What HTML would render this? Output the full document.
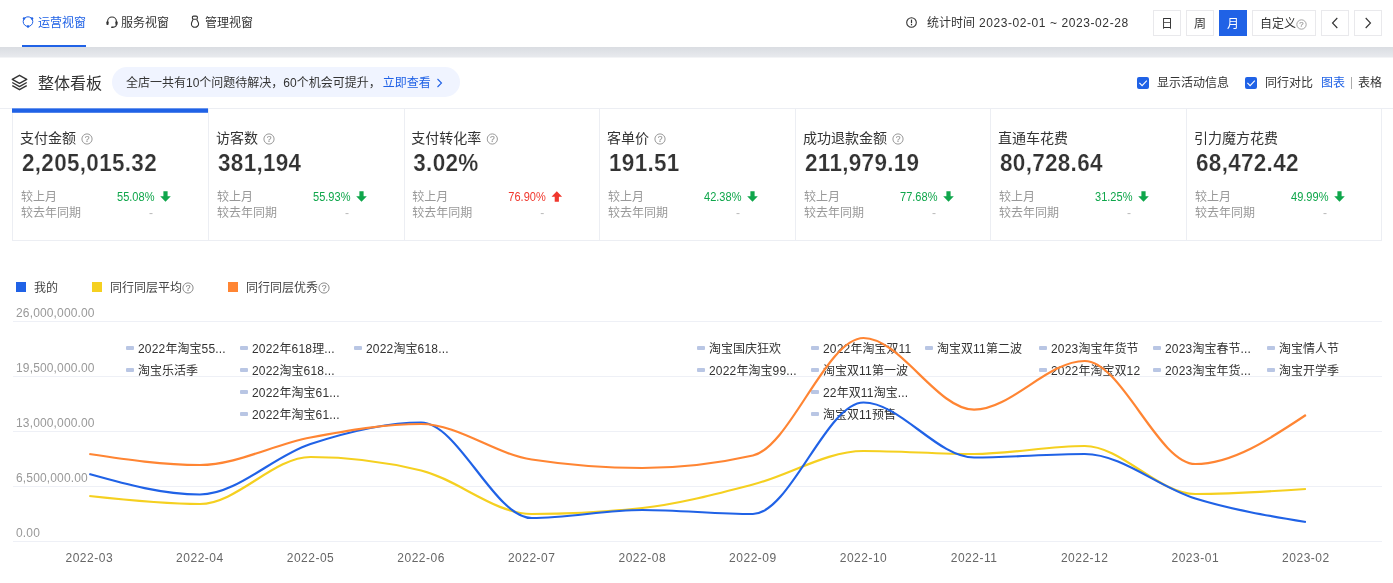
<!DOCTYPE html>
<html lang="zh-CN">
<head>
<meta charset="utf-8">
<title>整体看板</title>
<style>
*{box-sizing:border-box;margin:0;padding:0}
html,body{width:1393px;height:583px;overflow:hidden;background:#fff}
body{font-family:"Liberation Sans", "Noto Sans CJK SC", sans-serif;font-size:12px;color:#333;position:relative;line-height:1}
.abs{position:absolute}
#nav{position:absolute;left:0;top:0;width:1393px;height:47px;background:#fff}
.tab{position:absolute;top:0;height:47px;font-size:12px;line-height:16px;color:#333;white-space:nowrap}
.tab svg{position:absolute;top:16px;left:0}
.tab span{position:absolute;top:15px}
.tab.on{color:#2062e6}
.tab.on:after{content:"";position:absolute;left:0;top:45px;height:2px;width:64px;background:#2062e6}
#band{position:absolute;left:0;top:47px;width:1393px;height:11px;background:linear-gradient(#dadde2 0,#e7e9ed 9.5px,#f0f1f4 10px,#f6f7f8 11px)}
#stat{position:absolute;top:15px;left:927px;font-size:12px;line-height:16px;color:#333;white-space:nowrap}
.btn{position:absolute;top:10px;height:26px;width:28px;border:1px solid #e9e9ec;background:#fff;font-size:12px;line-height:26px;text-align:center;color:#333;white-space:nowrap}
.btn.on{background:#2062e6;border-color:#2062e6;color:#fff}
#ttl{position:absolute;left:38px;top:72px;font-size:16px;line-height:24px;color:#333;white-space:nowrap}
#pill{position:absolute;left:112px;top:67px;width:348px;height:30px;border-radius:15px;background:#f0f4ff;font-size:12px;line-height:32px;color:#333;padding-left:14px;white-space:nowrap}
#pill b{font-weight:normal;color:#2062e6;margin-left:2px}
.chk{position:absolute;top:77px;width:12px;height:12px;border-radius:2px;background:#2062e6}
.lbl{position:absolute;top:75px;font-size:12px;line-height:16px;white-space:nowrap;color:#333}
#hline{position:absolute;left:0;top:108px;width:1393px;height:1px;background:#eceef3}
#cards{position:absolute;left:0;top:108px;width:1393px;height:133px}
.card{position:absolute;top:0;height:133px;border:1px solid #eceef3;border-right:none;background:#fff}
.card:last-child{border-right:1px solid #eceef3}
.card.act:before{content:"";position:absolute;left:-1px;right:0;top:-1px;height:5px;background:linear-gradient(#6a96ee 0,#6a96ee 1px,#2062e6 1px,#2062e6 4px,#5184eb 4px)}
.ci{position:absolute;left:0;top:0;width:100%;height:100%}
.ct{position:absolute;left:7px;top:19px;font-size:14px;line-height:20px;color:#333;white-space:nowrap}
.ct .q{vertical-align:-2px;margin-left:1px}
.cv{position:absolute;left:9px;top:41px;font-size:22.5px;line-height:28px;font-weight:bold;color:#333;white-space:nowrap;letter-spacing:.3px;-webkit-text-stroke:.2px #fff;transform:scaleY(1.09);transform-origin:0 22.6px}
.cr{position:absolute;left:8px;font-size:12px;line-height:16px;color:#999;white-space:nowrap;width:180px;height:16px}
.r1{top:80px} .r2{top:96px}
.cp{position:absolute;left:96px;top:0;transform:scaleX(.92);transform-origin:0 0}
.cd{position:absolute;left:128px;top:0;color:#bbb}
.arr{position:absolute;left:139px;top:2px}
.lg{position:absolute;top:280px;font-size:12px;line-height:16px;color:#444;white-space:nowrap}
.lg i{position:absolute;left:-18px;top:2px;width:10px;height:10px}
.lg .q{vertical-align:-1.5px;margin-left:0}
.yl{position:absolute;left:16px;font-size:12px;line-height:16px;color:#999;white-space:nowrap}
.xl{position:absolute;top:550px;width:80px;text-align:center;font-size:12px;line-height:16px;color:#666;white-space:nowrap;letter-spacing:.5px}
.ev{position:absolute;font-size:12px;line-height:20px;color:#333;white-space:nowrap;padding-left:11px;margin-top:1px}
.ev i{position:absolute;left:-1px;top:6.5px;width:8px;height:4px;background:#b9c6e4;border-radius:1px}
#plot{position:absolute;left:0;top:0}
.n{letter-spacing:.58px}
.n2{letter-spacing:.15px}
.n3{letter-spacing:.2px}
</style>
</head>
<body>
<div id="nav">
  <div class="tab on" style="left:22px;width:64px">
    <svg width="12" height="13" viewBox="0 0 12 13" style="top:15px"><circle cx="6" cy="6.6" r="4.8" fill="none" stroke="#2062e6" stroke-width="1"/><circle cx="2" cy="3.4" r="1.25" fill="#2062e6"/><circle cx="10" cy="3.4" r="1.25" fill="#2062e6"/><circle cx="6" cy="11.4" r="1.25" fill="#2062e6"/></svg>
    <span style="left:16px">运营视窗</span>
  </div>
  <div class="tab" style="left:106px;width:64px">
    <svg width="12" height="13" viewBox="0 0 12 13" style="top:16px"><path d="M1.6 6.6V5.4a4.4 4.4 0 0 1 8.8 0V6.6" fill="none" stroke="#333" stroke-width="1.1"/><rect x="0.4" y="5.2" width="2.2" height="3.8" rx="1" fill="#333"/><rect x="9.4" y="5.2" width="2.2" height="3.8" rx="1" fill="#333"/><path d="M10.4 8.6c0 1.6-1.4 2.6-3.6 2.6" fill="none" stroke="#333" stroke-width="1.1"/><rect x="5" y="10.4" width="2.6" height="1.6" rx="0.8" fill="#333"/></svg>
    <span style="left:15px">服务视窗</span>
  </div>
  <div class="tab" style="left:190px;width:64px">
    <svg width="10" height="13" viewBox="0 0 10 13" style="top:15px;left:0"><rect x="2.4" y="1.1" width="5" height="3.2" rx="1.2" fill="none" stroke="#333" stroke-width="1.1"/><path d="M3 4.5C2.4 6 1.4 7.4 1.4 9c0 1.6 1.6 3.3 3.5 3.3S8.6 10.600 8.600 9C8.600 7.400 7.400 6 6.800 4.500" fill="none" stroke="#333" stroke-width="1.1"/></svg>
    <span style="left:15px">管理视窗</span>
  </div>
  <svg class="abs" style="left:906px;top:16.5px" width="11" height="11" viewBox="0 0 11 11"><circle cx="5.5" cy="5.5" r="4.8" fill="none" stroke="#333" stroke-width="1.1"/><rect x="4.9" y="2.6" width="1.2" height="3.6" fill="#333"/><rect x="4.9" y="7" width="1.2" height="1.3" fill="#333"/></svg>
  <div id="stat">统计时间<span class="n"> 2023-02-01 ~ 2023-02-28</span></div>
  <div class="btn" style="left:1153px">日</div>
  <div class="btn" style="left:1186px">周</div>
  <div class="btn on" style="left:1219px">月</div>
  <div class="btn" style="left:1252px;width:64px;text-indent:-1px">自定义<span style="position:relative;top:2px"><svg class="q" viewBox="0 0 12 12" width="11" height="11"><circle cx="6" cy="6" r="5.1" fill="none" stroke="#999" stroke-width="1"/><text x="6" y="9" font-size="8.5" text-anchor="middle" fill="#999" stroke="#999" stroke-width="0.2" font-family='"Liberation Sans", sans-serif'>?</text></svg></span></div>
  <div class="btn" style="left:1321px"><svg width="8" height="12" viewBox="0 0 8 12" style="position:absolute;left:9px;top:6px"><path d="M6.3 1 1.5 6l4.800 5" fill="none" stroke="#333" stroke-width="1.1"/></svg></div>
  <div class="btn" style="left:1354px"><svg width="8" height="12" viewBox="0 0 8 12" style="position:absolute;left:9px;top:6px"><path d="M1.7 1 6.500 6l-4.800 5" fill="none" stroke="#333" stroke-width="1.1"/></svg></div>
</div>
<div id="band"></div>

<svg class="abs" style="left:11px;top:74px" width="17" height="17" viewBox="0 0 16 16"><path d="M8 1.2 14.8 5 8 8.8 1.2 5z" fill="none" stroke="#333" stroke-width="1.3" stroke-linejoin="round"/><path d="M1.2 8 8 11.8 14.8 8" fill="none" stroke="#333" stroke-width="1.3" stroke-linejoin="round"/><path d="M1.2 11 8 14.8 14.8 11" fill="none" stroke="#333" stroke-width="1.3" stroke-linejoin="round"/></svg>
<div id="ttl">整体看板</div>
<div id="pill">全店一共有10个问题待解决，60个机会可提升，<b>立即查看</b><svg width="7" height="10" viewBox="0 0 7 10" style="margin-left:5px;vertical-align:-1px"><path d="M1.5 1l4 4-4 4" fill="none" stroke="#2062e6" stroke-width="1.1"/></svg></div>

<div class="chk" style="left:1137px"><svg width="12" height="12" viewBox="0 0 12 12"><path d="M2.4 5.8 5.1 8.7l4.7-5" fill="none" stroke="#fff" stroke-width="1.1"/></svg></div>
<div class="lbl" style="left:1157px">显示活动信息</div>
<div class="chk" style="left:1245px"><svg width="12" height="12" viewBox="0 0 12 12"><path d="M2.4 5.8 5.1 8.7l4.7-5" fill="none" stroke="#fff" stroke-width="1.1"/></svg></div>
<div class="lbl" style="left:1265px">同行对比</div>
<div class="lbl" style="left:1321px;color:#2062e6">图表</div>
<div class="abs" style="left:1351px;top:77px;width:1px;height:12px;background:#aaa"></div>
<div class="lbl" style="left:1358px">表格</div>

<div id="hline"></div>
<div id="cards">
<div class="card act" style="left:12px;width:196px"><div class="ci">
  <div class="ct">支付金额 <svg class="q" viewBox="0 0 12 12" width="12" height="12"><circle cx="6" cy="6" r="5.1" fill="none" stroke="#999" stroke-width="1"/><text x="6" y="9" font-size="8.5" text-anchor="middle" fill="#999" stroke="#999" stroke-width="0.2" font-family='"Liberation Sans", sans-serif'>?</text></svg></div>
  <div class="cv">2,205,015.32</div>
  <div class="cr r1"><span class="cl">较上月</span><span class="cp" style="color:#0fa64b">55.08%</span><svg class="arr" viewBox="0 0 11 11" width="11" height="11"><path d="M3.4 0.3h4.2v4.9h3.2L5.5 10.8 0.2 5.2h3.2z" fill="#0fa64b"/></svg></div>
  <div class="cr r2"><span class="cl">较去年同期</span><span class="cd">-</span></div>
</div></div>
<div class="card" style="left:208px;width:196px"><div class="ci">
  <div class="ct">访客数 <svg class="q" viewBox="0 0 12 12" width="12" height="12"><circle cx="6" cy="6" r="5.1" fill="none" stroke="#999" stroke-width="1"/><text x="6" y="9" font-size="8.5" text-anchor="middle" fill="#999" stroke="#999" stroke-width="0.2" font-family='"Liberation Sans", sans-serif'>?</text></svg></div>
  <div class="cv">381,194</div>
  <div class="cr r1"><span class="cl">较上月</span><span class="cp" style="color:#0fa64b">55.93%</span><svg class="arr" viewBox="0 0 11 11" width="11" height="11"><path d="M3.4 0.3h4.2v4.9h3.2L5.5 10.8 0.2 5.2h3.2z" fill="#0fa64b"/></svg></div>
  <div class="cr r2"><span class="cl">较去年同期</span><span class="cd">-</span></div>
</div></div>
<div class="card" style="left:404px;width:195px"><div class="ci" style="transform:translateX(-.7px)">
  <div class="ct">支付转化率 <svg class="q" viewBox="0 0 12 12" width="12" height="12"><circle cx="6" cy="6" r="5.1" fill="none" stroke="#999" stroke-width="1"/><text x="6" y="9" font-size="8.5" text-anchor="middle" fill="#999" stroke="#999" stroke-width="0.2" font-family='"Liberation Sans", sans-serif'>?</text></svg></div>
  <div class="cv">3.02%</div>
  <div class="cr r1"><span class="cl">较上月</span><span class="cp" style="color:#f0372d">76.90%</span><svg class="arr" viewBox="0 0 11 11" width="11" height="11"><path d="M3.4 10.7h4.2V5.8h3.2L5.5 0.2 0.2 5.8h3.2z" fill="#f0372d"/></svg></div>
  <div class="cr r2"><span class="cl">较去年同期</span><span class="cd">-</span></div>
</div></div>
<div class="card" style="left:599px;width:196px"><div class="ci">
  <div class="ct">客单价 <svg class="q" viewBox="0 0 12 12" width="12" height="12"><circle cx="6" cy="6" r="5.1" fill="none" stroke="#999" stroke-width="1"/><text x="6" y="9" font-size="8.5" text-anchor="middle" fill="#999" stroke="#999" stroke-width="0.2" font-family='"Liberation Sans", sans-serif'>?</text></svg></div>
  <div class="cv">191.51</div>
  <div class="cr r1"><span class="cl">较上月</span><span class="cp" style="color:#0fa64b">42.38%</span><svg class="arr" viewBox="0 0 11 11" width="11" height="11"><path d="M3.4 0.3h4.2v4.9h3.2L5.5 10.8 0.2 5.2h3.2z" fill="#0fa64b"/></svg></div>
  <div class="cr r2"><span class="cl">较去年同期</span><span class="cd">-</span></div>
</div></div>
<div class="card" style="left:795px;width:195px"><div class="ci">
  <div class="ct">成功退款金额 <svg class="q" viewBox="0 0 12 12" width="12" height="12"><circle cx="6" cy="6" r="5.1" fill="none" stroke="#999" stroke-width="1"/><text x="6" y="9" font-size="8.5" text-anchor="middle" fill="#999" stroke="#999" stroke-width="0.2" font-family='"Liberation Sans", sans-serif'>?</text></svg></div>
  <div class="cv">211,979.19</div>
  <div class="cr r1"><span class="cl">较上月</span><span class="cp" style="color:#0fa64b">77.68%</span><svg class="arr" viewBox="0 0 11 11" width="11" height="11"><path d="M3.4 0.3h4.2v4.9h3.2L5.5 10.8 0.2 5.2h3.2z" fill="#0fa64b"/></svg></div>
  <div class="cr r2"><span class="cl">较去年同期</span><span class="cd">-</span></div>
</div></div>
<div class="card" style="left:990px;width:196px"><div class="ci">
  <div class="ct">直通车花费</div>
  <div class="cv">80,728.64</div>
  <div class="cr r1"><span class="cl">较上月</span><span class="cp" style="color:#0fa64b">31.25%</span><svg class="arr" viewBox="0 0 11 11" width="11" height="11"><path d="M3.4 0.3h4.2v4.9h3.2L5.5 10.8 0.2 5.2h3.2z" fill="#0fa64b"/></svg></div>
  <div class="cr r2"><span class="cl">较去年同期</span><span class="cd">-</span></div>
</div></div>
<div class="card" style="left:1186px;width:196px"><div class="ci">
  <div class="ct">引力魔方花费</div>
  <div class="cv">68,472.42</div>
  <div class="cr r1"><span class="cl">较上月</span><span class="cp" style="color:#0fa64b">49.99%</span><svg class="arr" viewBox="0 0 11 11" width="11" height="11"><path d="M3.4 0.3h4.2v4.9h3.2L5.5 10.8 0.2 5.2h3.2z" fill="#0fa64b"/></svg></div>
  <div class="cr r2"><span class="cl">较去年同期</span><span class="cd">-</span></div>
</div></div>
</div>

<div class="lg" style="left:34px"><i style="background:#2062e6"></i>我的</div>
<div class="lg" style="left:110px"><i style="background:#f5d020"></i>同行同层平均<svg class="q" viewBox="0 0 12 12" width="12" height="12"><circle cx="6" cy="6" r="5.1" fill="none" stroke="#8c8c8c" stroke-width="1"/><text x="6" y="9" font-size="8.5" text-anchor="middle" fill="#8c8c8c" stroke="#8c8c8c" stroke-width="0.2" font-family='"Liberation Sans", sans-serif'>?</text></svg></div>
<div class="lg" style="left:246px"><i style="background:#ff8533"></i>同行同层优秀<svg class="q" viewBox="0 0 12 12" width="12" height="12"><circle cx="6" cy="6" r="5.1" fill="none" stroke="#8c8c8c" stroke-width="1"/><text x="6" y="9" font-size="8.5" text-anchor="middle" fill="#8c8c8c" stroke="#8c8c8c" stroke-width="0.2" font-family='"Liberation Sans", sans-serif'>?</text></svg></div>

<svg id="plot" width="1393" height="583" viewBox="0 0 1393 583">
<line x1="13" x2="1382" y1="321.5" y2="321.5" stroke="#eef0f6" stroke-width="1"/><line x1="13" x2="1382" y1="376.5" y2="376.5" stroke="#eef0f6" stroke-width="1"/><line x1="13" x2="1382" y1="431.5" y2="431.5" stroke="#eef0f6" stroke-width="1"/><line x1="13" x2="1382" y1="486.5" y2="486.5" stroke="#eef0f6" stroke-width="1"/><line x1="13" x2="1382" y1="541.5" y2="541.5" stroke="#eef0f6" stroke-width="1"/>
</svg>
<div class="yl n2" style="top:305px">26,000,000.00</div><div class="yl n2" style="top:360px">19,500,000.00</div><div class="yl n2" style="top:415px">13,000,000.00</div><div class="yl n2" style="top:470px">6,500,000.00</div><div class="yl n2" style="top:525px">0.00</div>
<div class="ev" style="left:127px;top:338px"><i></i><span class="n3">2022</span>年淘宝<span class="n3">55...</span></div>
<div class="ev" style="left:127px;top:360px"><i></i>淘宝乐活季</div>
<div class="ev" style="left:241px;top:338px"><i></i><span class="n3">2022</span>年<span class="n3">618</span>理<span class="n3">...</span></div>
<div class="ev" style="left:241px;top:360px"><i></i><span class="n3">2022</span>淘宝<span class="n3">618...</span></div>
<div class="ev" style="left:241px;top:382px"><i></i><span class="n3">2022</span>年淘宝<span class="n3">61...</span></div>
<div class="ev" style="left:241px;top:404px"><i></i><span class="n3">2022</span>年淘宝<span class="n3">61...</span></div>
<div class="ev" style="left:355px;top:338px"><i></i><span class="n3">2022</span>淘宝<span class="n3">618...</span></div>
<div class="ev" style="left:698px;top:338px"><i></i>淘宝国庆狂欢</div>
<div class="ev" style="left:698px;top:360px"><i></i><span class="n3">2022</span>年淘宝<span class="n3">99...</span></div>
<div class="ev" style="left:812px;top:338px"><i></i><span class="n3">2022</span>年淘宝双<span class="n3">11</span></div>
<div class="ev" style="left:812px;top:360px"><i></i>淘宝双<span class="n3">11</span>第一波</div>
<div class="ev" style="left:812px;top:382px"><i></i><span class="n3">22</span>年双<span class="n3">11</span>淘宝<span class="n3">...</span></div>
<div class="ev" style="left:812px;top:404px"><i></i>淘宝双<span class="n3">11</span>预售</div>
<div class="ev" style="left:926px;top:338px"><i></i>淘宝双<span class="n3">11</span>第二波</div>
<div class="ev" style="left:1040px;top:338px"><i></i><span class="n3">2023</span>淘宝年货节</div>
<div class="ev" style="left:1040px;top:360px"><i></i><span class="n3">2022</span>年淘宝双<span class="n3">12</span></div>
<div class="ev" style="left:1154px;top:338px"><i></i><span class="n3">2023</span>淘宝春节<span class="n3">...</span></div>
<div class="ev" style="left:1154px;top:360px"><i></i><span class="n3">2023</span>淘宝年货<span class="n3">...</span></div>
<div class="ev" style="left:1268px;top:338px"><i></i>淘宝情人节</div>
<div class="ev" style="left:1268px;top:360px"><i></i>淘宝开学季</div>

<svg class="abs" style="left:0;top:0" width="1393" height="583" viewBox="0 0 1393 583" fill="none" stroke-width="2.2" stroke-linecap="butt" stroke-linejoin="round">
<path d="M89.30 496.00 C126.17 500.00 163.03 504.00 199.90 504.00 C236.77 504.00 273.63 457.00 310.50 457.00 C347.37 457.00 384.23 461.50 421.10 470.50 C457.97 479.50 494.83 514.00 531.70 514.00 C568.57 514.00 605.43 512.00 642.30 508.00 C679.17 504.00 716.03 494.00 752.90 484.50 C789.77 475.00 826.63 451.00 863.50 451.00 C900.37 451.00 937.23 454.00 974.10 454.00 C1010.97 454.00 1047.83 446.00 1084.70 446.00 C1121.57 446.00 1158.43 494.00 1195.30 494.00 C1232.17 494.00 1269.03 491.50 1305.90 489.00" stroke="#f5d020"/>
<path d="M89.30 474.00 C126.17 484.25 163.03 494.50 199.90 494.50 C236.77 494.50 273.63 456.00 310.50 444.00 C347.37 432.00 384.23 422.50 421.10 422.50 C457.97 422.50 494.83 518.00 531.70 518.00 C568.57 518.00 605.43 510.00 642.30 510.00 C679.17 510.00 716.03 514.00 752.90 514.00 C789.77 514.00 826.63 402.50 863.50 402.50 C900.37 402.50 937.23 457.50 974.10 457.50 C1010.97 457.50 1047.83 454.00 1084.70 454.00 C1121.57 454.00 1158.43 487.17 1195.30 498.50 C1232.17 509.83 1269.03 515.92 1305.90 522.00" stroke="#2062e6"/>
<path d="M89.30 454.00 C126.17 459.50 163.03 465.00 199.90 465.00 C236.77 465.00 273.63 444.33 310.50 437.50 C347.37 430.67 384.23 424.00 421.10 424.00 C457.97 424.00 494.83 453.83 531.70 459.50 C568.57 465.17 605.43 468.00 642.30 468.00 C679.17 468.00 716.03 463.83 752.90 455.50 C789.77 447.17 826.63 338.00 863.50 338.00 C900.37 338.00 937.23 409.70 974.10 409.70 C1010.97 409.70 1047.83 361.00 1084.70 361.00 C1121.57 361.00 1158.43 464.00 1195.30 464.00 C1232.17 464.00 1269.03 439.50 1305.90 415.00" stroke="#ff8533"/>
</svg>
<div class="xl" style="left:49.3px">2022-03</div><div class="xl" style="left:159.9px">2022-04</div><div class="xl" style="left:270.5px">2022-05</div><div class="xl" style="left:381.1px">2022-06</div><div class="xl" style="left:491.7px">2022-07</div><div class="xl" style="left:602.3px">2022-08</div><div class="xl" style="left:712.9px">2022-09</div><div class="xl" style="left:823.5px">2022-10</div><div class="xl" style="left:934.1px">2022-11</div><div class="xl" style="left:1044.7px">2022-12</div><div class="xl" style="left:1155.3px">2023-01</div><div class="xl" style="left:1265.9px">2023-02</div>
</body>
</html>
